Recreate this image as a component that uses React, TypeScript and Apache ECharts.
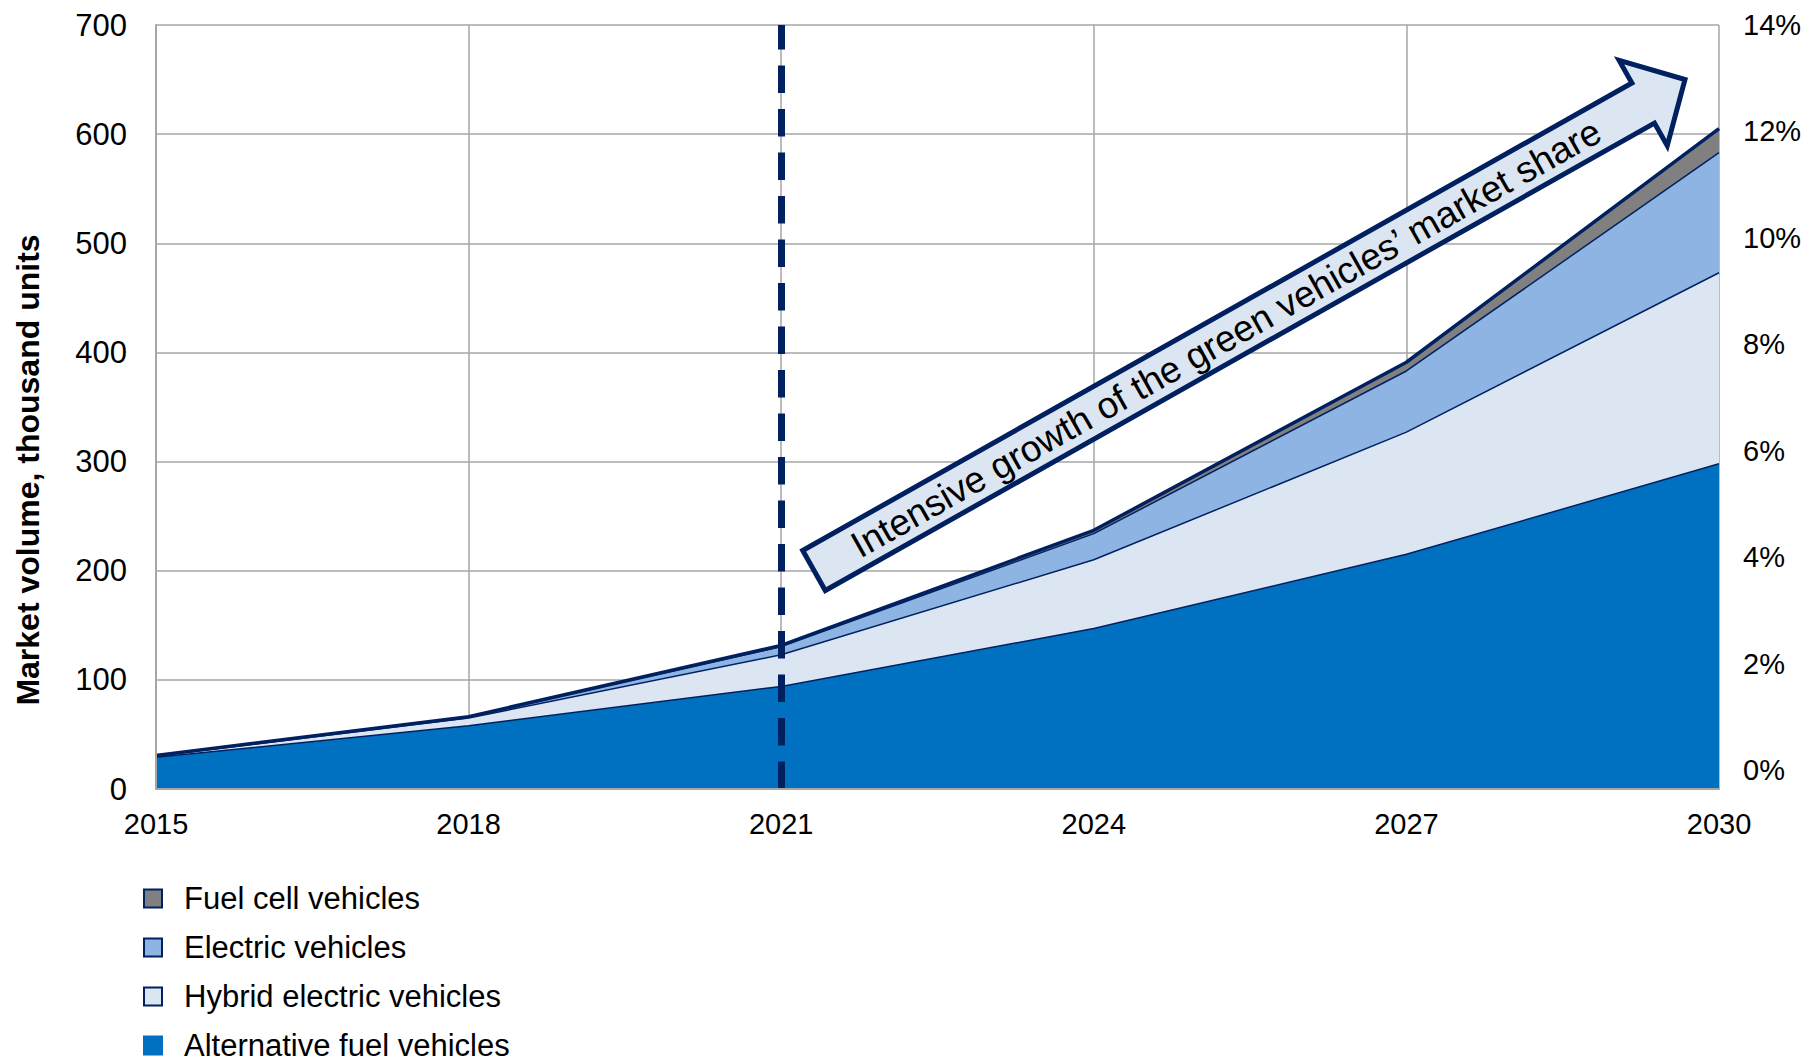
import React, { useEffect, useRef } from 'react';
import * as echarts from 'echarts';

const years = ['2015', '2018', '2021', '2024', '2027', '2030'];
const alternativeFuel = [29, 58, 94, 147, 215, 298];
const hybridElectric = [1, 7, 29, 63, 112, 175];
const electric = [0.5, 1, 7.5, 24, 56, 110];
const fuelCell = [0.3, 0.3, 1, 3, 8, 22];

const leftTicks = { min: 0, max: 700, interval: 100 };
const rightTicks = { min: 0, max: 14, interval: 2 };

const seriesNames = [
  'Alternative fuel vehicles',
  'Hybrid electric vehicles',
  'Electric vehicles',
  'Fuel cell vehicles',
];
const legendOrder = [
  'Fuel cell vehicles',
  'Electric vehicles',
  'Hybrid electric vehicles',
  'Alternative fuel vehicles',
];
const seriesColors = ['#0070C0', '#DCE6F2', '#8EB4E3', '#808080'];
const seriesValues = [alternativeFuel, hybridElectric, electric, fuelCell];

const annotationText = 'Intensive growth of the green vehicles\u2019 market share';
const axisTitle = 'Market volume, thousand units';
const markYear = '2021';

const FONT = '"Liberation Sans", Arial, sans-serif';
const NAVY = '#002060';
const GRID = '#A6A6A6';

export default function App() {
  const ref = useRef<HTMLDivElement>(null);

  useEffect(() => {
    document.body.style.margin = '0';
    if (!ref.current) return;
    const chart = echarts.init(ref.current, undefined, { renderer: 'svg' });

    const L = 952;
    const bw = 23;
    const hw = 49;
    const hl = 48;
    const arrowPts = [
      [0, -bw],
      [L, -bw],
      [L, -hw],
      [L + hl, 0],
      [L, hw],
      [L, bw],
      [0, bw],
    ];

    const series: any[] = seriesNames.map((name, i) => ({
      name,
      type: 'line',
      stack: 'total',
      xAxisIndex: 0,
      yAxisIndex: 0,
      symbol: 'none',
      data: seriesValues[i],
      itemStyle: { color: seriesColors[i] },
      lineStyle: { color: NAVY, width: i === 3 ? 3.5 : 1.5 },
      areaStyle: { color: seriesColors[i], opacity: 1 },
      emphasis: { disabled: true },
      z: 2,
    }));
    series[3].markLine = {
      silent: true,
      symbol: ['none', 'none'],
      label: { show: false },
      lineStyle: { color: NAVY, width: 7, type: [27.5, 16] },
      data: [{ xAxis: markYear }],
    };

    const option: any = {
      animation: false,
      textStyle: { fontFamily: FONT },
      grid: [
        { left: 156, right: 91, top: 25, bottom: 275 },
        { left: 156, right: 91, top: 25, bottom: 294 },
      ],
      xAxis: [
        {
          gridIndex: 0,
          type: 'category',
          data: years,
          boundaryGap: false,
          axisLine: { show: false },
          axisTick: { show: false },
          axisLabel: { fontSize: 29, color: '#000', margin: 20, fontFamily: FONT },
          splitLine: { show: true, lineStyle: { color: GRID, width: 1.5 } },
        },
        {
          gridIndex: 0,
          type: 'category',
          data: years,
          boundaryGap: false,
          position: 'bottom',
          axisLine: { show: true, lineStyle: { color: GRID, width: 2 } },
          axisTick: { show: false },
          axisLabel: { show: false },
          splitLine: { show: false },
          z: 10,
        },
        { gridIndex: 1, type: 'category', data: years, show: false },
      ],
      yAxis: [
        {
          gridIndex: 0,
          type: 'value',
          position: 'left',
          min: leftTicks.min,
          max: leftTicks.max,
          interval: leftTicks.interval,
          axisLine: { show: false },
          axisTick: { show: false },
          axisLabel: { fontSize: 31, color: '#000', margin: 29, fontFamily: FONT },
          splitLine: { show: true, lineStyle: { color: GRID, width: 1.5 } },
        },
        {
          gridIndex: 0,
          type: 'value',
          position: 'left',
          min: leftTicks.min,
          max: leftTicks.max,
          interval: leftTicks.interval,
          axisLine: { show: true, lineStyle: { color: GRID, width: 2 } },
          axisTick: { show: false },
          axisLabel: { show: false },
          splitLine: { show: false },
          z: 10,
        },
        {
          gridIndex: 1,
          type: 'value',
          position: 'right',
          min: rightTicks.min,
          max: rightTicks.max,
          interval: rightTicks.interval,
          axisLine: { show: false },
          axisTick: { show: false },
          splitLine: { show: false },
          axisLabel: {
            formatter: '{value}%',
            fontSize: 29,
            color: '#000',
            margin: 24,
            fontFamily: FONT,
          },
        },
      ],
      legend: {
        orient: 'vertical',
        left: 138,
        top: 878,
        height: 240,
        itemWidth: 18,
        itemHeight: 18,
        itemGap: 18,
        icon: 'rect',
        selectedMode: false,
        data: legendOrder.map((name) => ({
          name,
          itemStyle: {
            borderColor: name === 'Alternative fuel vehicles' ? '#0070C0' : NAVY,
            borderWidth: 2,
          },
        })),
        textStyle: {
          fontSize: 31,
          color: '#000',
          fontFamily: FONT,
          padding: [0, 0, 0, 17],
        },
      },
      graphic: [
        {
          type: 'text',
          x: 28,
          y: 470,
          rotation: Math.PI / 2,
          z: 100,
          style: {
            text: axisTitle,
            fontSize: 32,
            fontWeight: 'bold',
            fontFamily: FONT,
            fill: '#000',
            align: 'center',
            verticalAlign: 'middle',
          },
        },
        {
          type: 'group',
          x: 814,
          y: 570.5,
          rotation: (29.4 * Math.PI) / 180,
          z: 100,
          children: [
            {
              type: 'polygon',
              z: 100,
              shape: { points: arrowPts },
              style: { fill: '#DCE6F2', stroke: NAVY, lineWidth: 5, lineJoin: 'miter' },
            },
            {
              type: 'text',
              x: 473,
              y: 0,
              z: 101,
              style: {
                text: annotationText,
                fontSize: 37,
                fontFamily: FONT,
                fill: '#000',
                align: 'center',
                verticalAlign: 'middle',
              },
            },
          ],
        },
      ],
      series,
    };

    chart.setOption(option);
    return () => chart.dispose();
  }, []);

  return <div ref={ref} style={{ width: 1810, height: 1064 }} />;
}
